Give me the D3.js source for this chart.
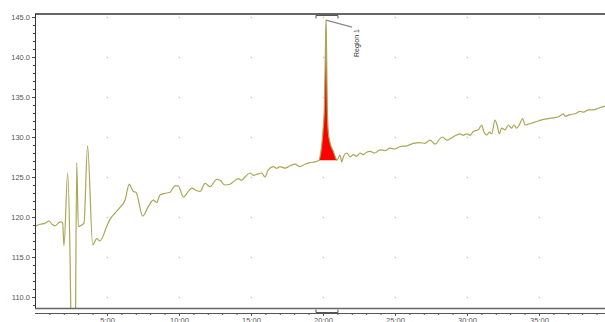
<!DOCTYPE html>
<html><head><meta charset="utf-8">
<script src="https://cdn.jsdelivr.net/npm/d3@7"></script>
<style>body{margin:0;background:#fff}svg{display:block}</style>
</head><body>
<svg id="c" width="605" height="322"></svg>
<script>
// Retention time (minutes) and detector response
const times = [0.00,0.35,0.69,0.97,1.18,1.39,1.60,1.74,1.92,2.01,2.27,2.43,2.55,2.67,2.78,2.90,3.01,3.24,3.40,3.65,4.01,4.28,4.51,4.98,5.21,5.56,5.90,6.25,6.55,6.67,6.83,7.01,7.48,7.87,8.22,8.45,8.68,9.15,9.38,9.72,9.95,10.30,10.65,10.88,11.23,11.46,11.81,12.15,12.62,12.85,13.19,13.54,13.77,14.12,14.35,14.58,14.93,15.16,15.51,15.74,15.97,16.20,16.55,16.78,17.01,17.36,17.71,18.06,18.40,18.75,19.10,19.44,19.72,19.84,19.93,20.00,20.10,20.16,20.21,20.26,20.30,20.37,20.49,20.72,20.97,21.18,21.30,21.41,21.65,21.88,22.10,22.34,22.57,22.80,23.03,23.26,23.61,23.96,24.31,24.65,25.00,25.35,25.81,26.27,26.74,27.08,27.43,27.78,28.13,28.31,28.59,28.94,29.28,29.51,29.74,29.98,30.21,30.44,30.78,31.02,31.18,31.37,31.55,31.72,31.94,32.10,32.24,32.41,32.64,32.87,33.10,33.26,33.45,33.68,33.87,34.03,34.26,34.60,34.95,35.30,35.65,35.99,36.34,36.69,36.81,37.15,37.50,37.85,38.08,38.44,38.77,39.12,39.47,39.65];
const response = [118.8,119.1,119.2,119.5,119.1,118.9,119.2,119.4,119.3,116.4,125.5,115.5,100,95,100,126.8,118.8,119.0,119.2,128.9,116.5,117.3,117.0,118.8,119.7,120.5,121.2,122.1,124.1,123.7,123.2,123.1,120.1,121.3,122.1,121.8,122.75,123.0,123.1,123.9,123.9,122.5,123.2,123.6,123.3,123.2,124.2,123.8,124.7,124.6,124.0,124.1,124.4,124.8,124.6,125.0,125.5,125.2,125.4,125.5,125.0,125.9,126.3,126.1,126.3,126.1,126.4,126.6,126.3,126.6,126.8,126.9,127.1,128.0,129.3,130.8,134.0,140.0,144.6,139.0,133.5,130.6,129.3,128.2,127.1,127.75,126.9,127.5,128.0,127.5,127.8,127.6,128.0,127.8,128.1,128.2,128.0,128.4,128.3,128.6,128.5,128.8,128.9,129.2,129.3,129.2,129.6,129.1,129.8,130.0,129.6,129.9,130.25,130.4,130.2,130.4,130.2,130.7,130.9,131.5,130.6,130.25,130.6,130.4,132.1,131.4,130.4,131.1,130.9,131.5,131.1,131.5,131.1,131.7,132.3,131.5,131.6,131.8,132.0,132.2,132.3,132.4,132.5,132.9,132.6,132.8,132.9,133.2,133.1,133.4,133.4,133.6,133.8,133.9];
const yTicks = [110,115,120,125,130,135,140,145];
const xTicks = [5,10,15,20,25,30,35];
const peakName = "Region 1";
const peakStart = 19.72, peakEnd = 20.97, peakApex = 20.21;

const data = times.map((t,i)=>({t, v: response[i]}));
const svg = d3.select("#c");
const L = 35, R = 605, T = 14, B = 308;
const x = d3.scaleLinear().domain([0, (R-L)/14.4]).range([L, R]);
const y = d3.scaleLinear().domain([145 - (B-17)/8, 145 + (17-T)/8]).range([B, T]);

svg.append("clipPath").attr("id","clip").append("rect").attr("x",L).attr("y",T).attr("width",R-L).attr("height",B-T);

// grid markers
const g = svg.append("g").attr("stroke","#d6d6d6").attr("stroke-width",1);
xTicks.forEach(tx => yTicks.forEach(ty => {
  const px = Math.round(x(tx))+0.5, py = Math.round(y(ty))+0.5;
  g.append("line").attr("x1",px-1).attr("x2",px+1).attr("y1",py).attr("y2",py);
  g.append("line").attr("x1",px).attr("x2",px).attr("y1",py-1).attr("y2",py+1);
}));

// peak fill
const pk = data.filter(d => d.t >= peakStart && d.t <= peakEnd);
const v0 = pk[0].v, v1 = pk[pk.length-1].v;
const base = t => v0 + (v1 - v0) * (t - peakStart) / (peakEnd - peakStart);
svg.append("path").datum(pk).attr("clip-path","url(#clip)")
  .attr("fill","#ff0000")
  .attr("d", d3.area().x(d=>x(d.t)).y0(d=>y(base(d.t))).y1(d=>y(d.v)).curve(d3.curveMonotoneX));

// trace
svg.append("path").datum(data).attr("clip-path","url(#clip)")
  .attr("fill","none").attr("stroke","#a8a856").attr("stroke-width",1.2)
  .attr("d", d3.line().x(d=>x(d.t)).y(d=>y(d.v)).curve(d3.curveMonotoneX));

// borders
svg.append("line").attr("x1",L).attr("x2",R).attr("y1",T).attr("y2",T).attr("stroke","#333").attr("stroke-width",1.3);
svg.append("line").attr("x1",L).attr("x2",R).attr("y1",B+0.5).attr("y2",B+0.5).attr("stroke","#666").attr("stroke-width",1.6);

// y axis
const yAxis = svg.append("g").attr("transform",`translate(${L},0)`)
  .call(d3.axisLeft(y).tickValues(yTicks).tickFormat(d3.format(".1f")).tickSize(3).tickPadding(2));
yAxis.append("g").call(d3.axisLeft(y).tickValues(d3.range(109,146)).tickFormat("").tickSize(2));
yAxis.selectAll(".domain").attr("stroke","#333").attr("d",`M0.5,${T}V${B}`);
yAxis.selectAll("line").attr("stroke","#444");
yAxis.selectAll("text").attr("fill","#555").style("font","7.5px 'Liberation Sans', Arial, sans-serif");

// x axis
const xAxis = svg.append("g").attr("transform",`translate(0,313)`)
  .call(d3.axisBottom(x).tickValues(xTicks).tickFormat(d=>d+":00").tickSize(3).tickPadding(2));
xAxis.append("g").call(d3.axisBottom(x).tickValues(d3.range(1,40).filter(v=>v%5)).tickFormat("").tickSize(2));
xAxis.selectAll(".domain").attr("stroke","#555").attr("d",`M${L},0.5H${R}`);
xAxis.selectAll("line").attr("stroke","#555");
xAxis.selectAll("text").attr("fill","#555").style("font","7.5px 'Liberation Sans', Arial, sans-serif");

// region brackets
const bx0 = x(peakStart) - 3, bx1 = x(peakEnd) + 1;
svg.append("path").attr("fill","none").attr("stroke","#555").attr("stroke-width",1)
  .attr("d",`M${bx0},18.5V15.5H${bx1}V18.5`);
svg.append("path").attr("fill","none").attr("stroke","#555").attr("stroke-width",1)
  .attr("d",`M${bx0},309.5V312.5H${bx1}V309.5`);

// label
const ax = x(peakApex), ay = y(144.6);
svg.append("path").attr("fill","none").attr("stroke","#888").attr("stroke-width",1.2)
  .attr("d",`M${ax},${ay}L${ax+26},${ay+7}`);
svg.append("text").attr("transform",`translate(358.5,29) rotate(-90)`)
  .attr("text-anchor","end").attr("fill","#333")
  .style("font","7px 'Liberation Sans', Arial, sans-serif").text(peakName);
</script>
</body></html>
